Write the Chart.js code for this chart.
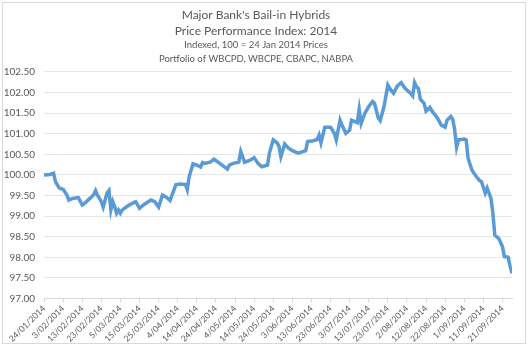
<!DOCTYPE html>
<html lang="en">
<head>
    <meta charset="UTF-8">
    <title>Major Bank's Bail-in Hybrids</title>
    <script src="https://cdn.jsdelivr.net/npm/chart.js"></script>
    <style>
        body { margin: 0; background: #fff; }
        #wrap { position: relative; width: 529px; height: 347px; }
        #frame {
            position: absolute; left: 2px; top: 2px;
            width: 522px; height: 340px;
            border: 1px solid #d9d9d9; pointer-events: none;
        }
    </style>
</head>
<body>
<div id="wrap">
    <canvas id="indexChart" width="529" height="347"></canvas>
    <div id="frame"></div>
</div>
<script>
    const dates = [
        '24/01/2014', '27/01/2014', '29/01/2014', '30/01/2014', '31/01/2014', '1/02/2014', '3/02/2014', '5/02/2014',
        '6/02/2014', '8/02/2014', '11/02/2014', '13/02/2014', '14/02/2014', '17/02/2014', '18/02/2014', '19/02/2014',
        '20/02/2014', '21/02/2014', '23/02/2014', '24/02/2014', '26/02/2014', '27/02/2014', '28/02/2014', '1/03/2014',
        '2/03/2014', '3/03/2014', '4/03/2014', '5/03/2014', '6/03/2014', '9/03/2014', '12/03/2014', '13/03/2014',
        '15/03/2014', '17/03/2014', '21/03/2014', '23/03/2014', '25/03/2014', '27/03/2014', '29/03/2014', '31/03/2014',
        '3/04/2014', '5/04/2014', '8/04/2014', '9/04/2014', '10/04/2014', '12/04/2014', '14/04/2014', '16/04/2014',
        '17/04/2014', '18/04/2014', '21/04/2014', '23/04/2014', '26/04/2014', '30/04/2014', '1/05/2014', '3/05/2014',
        '6/05/2014', '7/05/2014', '8/05/2014', '9/05/2014', '12/05/2014', '14/05/2014', '16/05/2014', '18/05/2014',
        '21/05/2014', '22/05/2014', '24/05/2014', '26/05/2014', '27/05/2014', '28/05/2014', '30/05/2014', '1/06/2014',
        '3/06/2014', '4/06/2014', '6/06/2014', '10/06/2014', '11/06/2014', '14/06/2014', '16/06/2014', '17/06/2014',
        '18/06/2014', '20/06/2014', '23/06/2014', '25/06/2014', '26/06/2014', '28/06/2014', '29/06/2014', '1/07/2014',
        '3/07/2014', '4/07/2014', '7/07/2014', '8/07/2014', '9/07/2014', '11/07/2014', '13/07/2014', '15/07/2014',
        '16/07/2014', '18/07/2014', '19/07/2014', '21/07/2014', '23/07/2014', '24/07/2014', '26/07/2014', '28/07/2014',
        '30/07/2014', '1/08/2014', '4/08/2014', '5/08/2014', '6/08/2014', '7/08/2014', '8/08/2014', '9/08/2014',
        '11/08/2014', '12/08/2014', '14/08/2014', '15/08/2014', '18/08/2014', '20/08/2014', '22/08/2014', '23/08/2014',
        '25/08/2014', '26/08/2014', '27/08/2014', '28/08/2014', '29/08/2014', '1/09/2014', '2/09/2014', '3/09/2014',
        '5/09/2014', '7/09/2014', '9/09/2014', '10/09/2014', '12/09/2014', '13/09/2014', '15/09/2014', '16/09/2014',
        '17/09/2014', '19/09/2014', '21/09/2014', '22/09/2014', '24/09/2014', '25/09/2014', '26/09/2014'
    ];
    const values = [
        100.00, 100.01, 100.04, 99.84, 99.76, 99.68, 99.65, 99.51,
        99.39, 99.43, 99.45, 99.27, 99.30, 99.43, 99.47, 99.52,
        99.62, 99.51, 99.35, 99.22, 99.56, 99.62, 99.15, 99.35,
        99.23, 99.07, 99.15, 99.07, 99.15, 99.25, 99.33, 99.35,
        99.19, 99.27, 99.39, 99.35, 99.22, 99.51, 99.46, 99.38,
        99.76, 99.78, 99.77, 99.64, 99.96, 100.27, 100.24, 100.19,
        100.30, 100.28, 100.31, 100.38, 100.28, 100.14, 100.24, 100.28,
        100.31, 100.57, 100.44, 100.31, 100.36, 100.42, 100.28, 100.20,
        100.24, 100.53, 100.85, 100.78, 100.70, 100.44, 100.75, 100.65,
        100.59, 100.57, 100.53, 100.59, 100.81, 100.83, 100.86, 100.97,
        100.78, 101.16, 101.16, 101.01, 100.85, 101.33, 101.21, 101.01,
        101.09, 101.33, 101.27, 101.59, 101.25, 101.50, 101.66, 101.78,
        101.74, 101.38, 101.32, 101.66, 102.18, 102.10, 101.98, 102.16,
        102.24, 102.10, 101.98, 101.92, 102.24, 102.14, 102.10, 101.84,
        101.74, 101.55, 101.64, 101.56, 101.38, 101.21, 101.16, 101.33,
        101.42, 101.35, 101.09, 100.67, 100.85, 100.87, 100.85, 100.41,
        100.12, 99.98, 99.86, 99.84, 99.56, 99.68, 99.43, 99.07,
        98.54, 98.46, 98.26, 98.02, 98.00, 97.78, 97.61
    ];
    const tickLabels = [
        '24/01/2014', '3/02/2014', '13/02/2014', '23/02/2014', '5/03/2014', '15/03/2014', '25/03/2014',
        '4/04/2014', '14/04/2014', '24/04/2014', '4/05/2014', '14/05/2014', '24/05/2014', '3/06/2014',
        '13/06/2014', '23/06/2014', '3/07/2014', '13/07/2014', '23/07/2014', '2/08/2014', '12/08/2014',
        '22/08/2014', '1/09/2014', '11/09/2014', '21/09/2014'
    ];

    // x axis is days since the first date
    const base = Date.UTC(2014, 0, 24);
    function dayOf(s) {
        const p = s.split('/').map(Number);
        return (Date.UTC(p[2], p[1] - 1, p[0]) - base) / 86400000;
    }
    const labelByDay = {};
    tickLabels.forEach(t => { labelByDay[dayOf(t)] = t; });

    const points = dates.map((d, i) => ({ x: dayOf(d), y: values[i] }));
    const grey = '#595959';
    const font = 'Lato, "Open Sans", sans-serif';

    new Chart(document.getElementById('indexChart'), {
        type: 'line',
        data: {
            datasets: [{
                data: points,
                borderColor: '#5b9bd5',
                borderWidth: 3.5,
                pointRadius: 0,
                tension: 0,
                fill: false
            }]
        },
        options: {
            responsive: false,
            animation: false,
            devicePixelRatio: 1,
            layout: { padding: { left: 0, right: 17, top: 0, bottom: 0 } },
            plugins: {
                legend: { display: false },
                tooltip: { enabled: false },
                title: {
                    display: true,
                    text: ["Major Bank's Bail-in Hybrids", 'Price Performance Index: 2014'],
                    color: grey,
                    font: { family: font, size: 12, weight: 'normal', lineHeight: 1.33 },
                    padding: { top: 7, bottom: 0 }
                },
                subtitle: {
                    display: true,
                    text: ['Indexed, 100 = 24 Jan 2014 Prices', 'Portfolio of WBCPD, WBCPE, CBAPC, NABPA'],
                    color: grey,
                    font: { family: font, size: 9.5, lineHeight: 1.37 },
                    padding: { top: 0, bottom: 7 }
                }
            },
            scales: {
                x: {
                    type: 'linear',
                    min: 0,
                    max: dayOf(dates[dates.length - 1]),
                    afterBuildTicks: scale => {
                        scale.ticks = tickLabels.map(t => ({ value: dayOf(t) }));
                    },
                    afterFit: scale => { scale.height = 48.5; },
                    ticks: {
                        autoSkip: false,
                        minRotation: 45,
                        maxRotation: 45,
                        color: grey,
                        font: { family: font, size: 8.5 },
                        padding: 1,
                        callback: v => labelByDay[v] || ''
                    },
                    grid: { drawOnChartArea: false, drawTicks: true, tickLength: 4, color: '#d9d9d9' },
                    border: { color: '#d9d9d9' }
                },
                y: {
                    min: 97,
                    max: 102.5,
                    afterFit: scale => { scale.width = 44; },
                    ticks: {
                        stepSize: 0.5,
                        color: grey,
                        font: { family: font, size: 10 },
                        padding: 9,
                        callback: v => v.toFixed(2)
                    },
                    grid: { color: '#e6e6e6', drawTicks: false },
                    border: { display: false }
                }
            }
        }
    });
</script>
</body>
</html>
